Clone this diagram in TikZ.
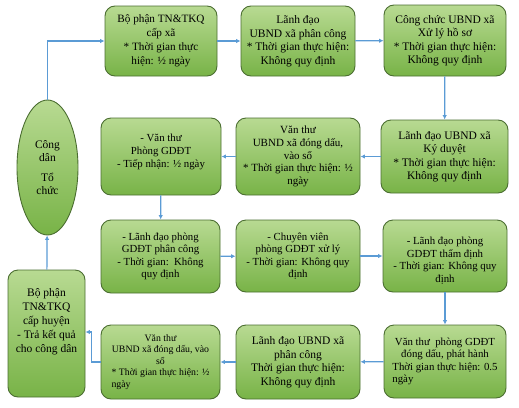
\documentclass[tikz,border=0pt]{standalone}
\usepackage{fontspec}
\setmainfont{Liberation Serif}
\usepackage{tikz}
\usetikzlibrary{arrows.meta,positioning,shapes.geometric}
\definecolor{boxtop}{HTML}{B8DA92}
\definecolor{boxbot}{HTML}{78B347}
\definecolor{boxline}{HTML}{4B6E31}
\definecolor{flowblue}{HTML}{5B9BD5}

\begin{document}
\begin{tikzpicture}[x=1pt,y=-1pt,>={Latex[length=4.5pt,width=4.5pt]},
    stepbox/.style={rounded corners=10pt,draw=boxline,line width=0.9pt,top color=boxtop,bottom color=boxbot,align=center,inner sep=2pt,font=\fontsize{11.5}{13.5}\selectfont},
    flow/.style={->,flowblue,line width=1.2pt}]
        \useasboundingbox (0,0) rectangle (519,407);
        \node[ellipse,draw=boxline,line width=0.9pt,top color=boxtop,bottom color=boxbot,minimum width=61pt,minimum height=135pt,inner sep=0pt,align=center,font=\fontsize{11.5}{13.5}\selectfont] (citizen) at (47.5,167.5) {Công\\dân\\[6pt]Tổ\\chức};
        \node[stepbox,minimum width=112pt,minimum height=70pt,font=\fontsize{11.2}{14}\selectfont] (xaRecv) at (161,41) {Bộ phận TN\&TKQ\\cấp xã\\* Thời gian thực\\hiện: ½ ngày};
        \node[stepbox,minimum width=114pt,minimum height=70pt] (xaAssign) at (298,41) {Lãnh đạo\\UBND xã phân công\\* Thời gian thực hiện:\\Không quy định};
        \node[stepbox,minimum width=122pt,minimum height=71pt] (xaHandle) at (445,40.5) {Công chức UBND xã\\Xử lý hồ sơ\\* Thời gian thực hiện:\\Không quy định};
        \node[stepbox,minimum width=127pt,minimum height=73pt] (xaSign) at (444.5,156.5) {Lãnh đạo UBND xã\\Ký duyệt\\* Thời gian thực hiện:\\Không quy định};
        \node[stepbox,minimum width=124pt,minimum height=77pt,font=\fontsize{11}{12.8}\selectfont] (xaStamp) at (298,156.5) {Văn thư\\UBND xã đóng dấu,\\vào sổ\\* Thời gian thực hiện: ½\\ngày};
        \node[stepbox,minimum width=120pt,minimum height=77pt,font=\fontsize{10.8}{12.5}\selectfont] (pgdRecv) at (161,156.5) {- Văn thư\\Phòng GDĐT\\- Tiếp nhận: ½ ngày\\[-1pt]\mbox{}};
        \node[stepbox,minimum width=119pt,minimum height=73pt,font=\fontsize{10.8}{12.5}\selectfont] (pgdAssign) at (160.5,256.5) {- Lãnh đạo phòng\\GDĐT phân công\\- Thời gian:\ \ Không\\quy định};
        \node[stepbox,minimum width=124pt,minimum height=72pt,font=\fontsize{10.8}{12.5}\selectfont] (pgdHandle) at (298,256) {- Chuyên viên\\phòng GDĐT xử lý\\- Thời gian: Không quy\\định};
        \node[stepbox,minimum width=124pt,minimum height=72pt,font=\fontsize{10.8}{12.5}\selectfont] (pgdCheck) at (445,256) {\mbox{}\\[4pt]- Lãnh đạo phòng\\GDĐT thẩm định\\- Thời gian: Không quy\\định};
        \node[stepbox,minimum width=122pt,minimum height=73pt,font=\fontsize{10.8}{12.5}\selectfont] (pgdStamp) at (445,361.5) {Văn thư\ \ phòng GDĐT\\đóng dấu, phát hành\\Thời gian thực hiện: 0.5\\\rlap{ngày}\phantom{Thời gian thực hiện: 0.5}};
        \node[stepbox,minimum width=124pt,minimum height=74pt] (xaAssign2) at (298,362) {Lãnh đạo UBND xã\\phân công\\Thời gian thực hiện:\\Không quy định};
        \node[stepbox,minimum width=119pt,minimum height=74pt,font=\fontsize{9.8}{11.5}\selectfont] (xaStamp2) at (160.5,362) {Văn thư\\UBND xã đóng dấu, vào\\sổ\\* Thời gian thực hiện: ½\\\rlap{ngày}\phantom{* Thời gian thực hiện: ½}};
        \node[stepbox,minimum width=77pt,minimum height=127pt,font=\fontsize{11.5}{14}\selectfont] (huyenRet) at (46.5,333.5) {Bộ phận\\TN\&TKQ\\cấp huyện\\- Trả kết quả\\cho công dân\\[12pt]\mbox{}};
        \draw[flow] (citizen) |- (xaRecv);
        \draw[flow] (xaRecv) -- (xaAssign);
        \draw[flow] (xaAssign) -- (xaHandle);
        \draw[flow] (xaHandle) -- (xaSign);
        \draw[flow] (xaSign) -- (xaStamp);
        \draw[flow] (xaStamp) -- (pgdRecv);
        \draw[flow] (pgdRecv) -- (pgdAssign);
        \draw[flow] (pgdAssign) -- (pgdHandle);
        \draw[flow] (pgdHandle) -- (pgdCheck);
        \draw[flow] (pgdCheck) -- (pgdStamp);
        \draw[flow] (pgdStamp) -- (xaAssign2);
        \draw[flow] (xaAssign2) -- (xaStamp2);
        \draw[flow] (xaStamp2.west) -- ++(-9,0) |- ([yshift=1.5pt]huyenRet.east);
        \draw[flow] (huyenRet) -- (citizen);
      \end{tikzpicture}
\end{document}
